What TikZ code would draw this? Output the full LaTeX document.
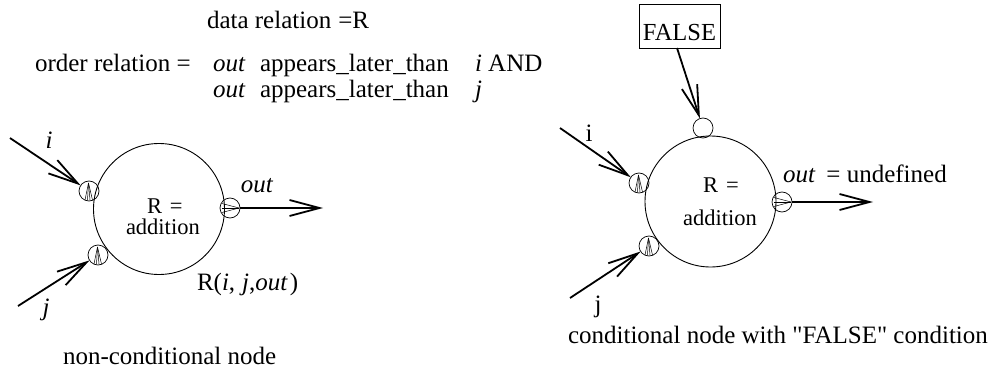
\documentclass[tikz,border=0pt]{standalone}
\usepackage{fontspec}
\setmainfont{Liberation Serif}[Ligatures=TeXOff]
\usetikzlibrary{arrows.meta}
\newcommand\inglyph[1]{\foreach \dx in {-4,-1.5,1,3.5} \draw[line width=0.5pt] ([xshift=-0.5pt,yshift=8pt]#1.center) -- ([xshift=\dx pt,yshift=-9pt]#1.center);}
\newcommand\outglyph[1]{\foreach \dy in {-4.5,0,4.5} \draw[line width=0.5pt] ([xshift=9pt]#1.center) -- ([xshift=-8pt,yshift=\dy pt]#1.center);}
\begin{document}
\begin{tikzpicture}[x=1pt,y=-1pt,
  every node/.style={inner sep=0pt, outer sep=0pt},
  txt/.style={font=\fontsize{25}{30}\selectfont, anchor=base west},
  lbl/.style={font=\fontsize{25}{30}\selectfont},
  itxt/.style={font=\fontsize{22.5}{27}\selectfont, anchor=base west},
  bigc/.style={circle, draw, line width=0.9pt, minimum size=131pt},
  port/.style={circle, draw, line width=0.7pt, minimum size=20pt},
  arr/.style={line width=1.8pt, -{Straight Barb[length=30pt,width=16pt]}},
]
\useasboundingbox (0,0) rectangle (995,377);

% top text
\node[txt] (dr) at (207,29) {data relation\hspace{7pt}=R};
\node[txt] (or) at (35,72) {order relation =};
\node[txt] (o1) at (213,72) {\textit{out}};
\node[txt] (a1) at (260,72) {appears\_later\_than};
\node[txt] (i1) at (475,72) {\textit{i} AND};
\node[txt] (o2) at (213,98) {\textit{out}};
\node[txt] (a2) at (260,98) {appears\_later\_than};
\node[txt] (j2) at (475,98) {\textit{j}};

% left diagram
\node[bigc] (L) at (159,209) {};
\node[port] (Li) at (89,191) {};
\node[port] (Lj) at (98,255) {};
\node[port] (Lo) at (230,208) {};
\inglyph{Li}
\inglyph{Lj}
\outglyph{Lo}
\coordinate (Lis) at (10,138);
\coordinate (Ljs) at (18,306);
\coordinate (Loe) at (323,208);
\draw[arr] (Lis) -- (Li);
\draw[arr] (Ljs) -- (Lj);
\draw[arr] (Lo) -- (Loe);
\node[lbl] (Lil) at (49,140) {\textit{i}};
\node[lbl] (Ljl) at (46,310) {\textit{j}};
\node[lbl] (Lol) at (257,186) {\textit{out}};
\node[itxt] (LR) at (147,213) {R\hspace{8pt}=};
\node[itxt] (La) at (126,234) {addition};
\node[txt] (Lrel) at (197,290) {R(\textit{i},\hspace{7pt}\textit{j},\textit{out}\hspace{2pt})};
\node[txt] (Lcap) at (63,364) {non-conditional node};

% right diagram
\node[draw, line width=0.8pt, minimum width=81pt, minimum height=44pt,
      font=\fontsize{24.5}{29}\selectfont, text height=30pt, text depth=0pt] (F) at (679.5,26) {FALSE};
\node[bigc] (R) at (710.5,201.5) {};
\node[port] (Rc) at (703,128) {};
\node[port] (Ri) at (639,183) {};
\node[port] (Rj) at (649,246) {};
\node[port] (Ro) at (782,202) {};
\inglyph{Ri}
\inglyph{Rj}
\outglyph{Ro}
\coordinate (Ris) at (560,128);
\coordinate (Rjs) at (570,298);
\coordinate (Roe) at (873,202);
\draw[arr] ([xshift=-2.5pt]F.south) -- (Rc);
\draw[arr] (Ris) -- (Ri);
\draw[arr] (Rjs) -- (Rj);
\draw[arr] (Ro) -- (Roe);
\node[lbl] (Ril) at (589,133) {i};
\node[lbl] (Rjl) at (598,307) {j};
\node[txt] (Rol) at (783,182) {\textit{out}\hspace{11pt}= undefined};
\node[itxt] (RR) at (703,192) {R\hspace{8pt}=};
\node[itxt] (Ra) at (683,225) {addition};
\node[txt] (Rcap) at (568,343) {conditional node with "FALSE" condition};
\end{tikzpicture}
\end{document}
